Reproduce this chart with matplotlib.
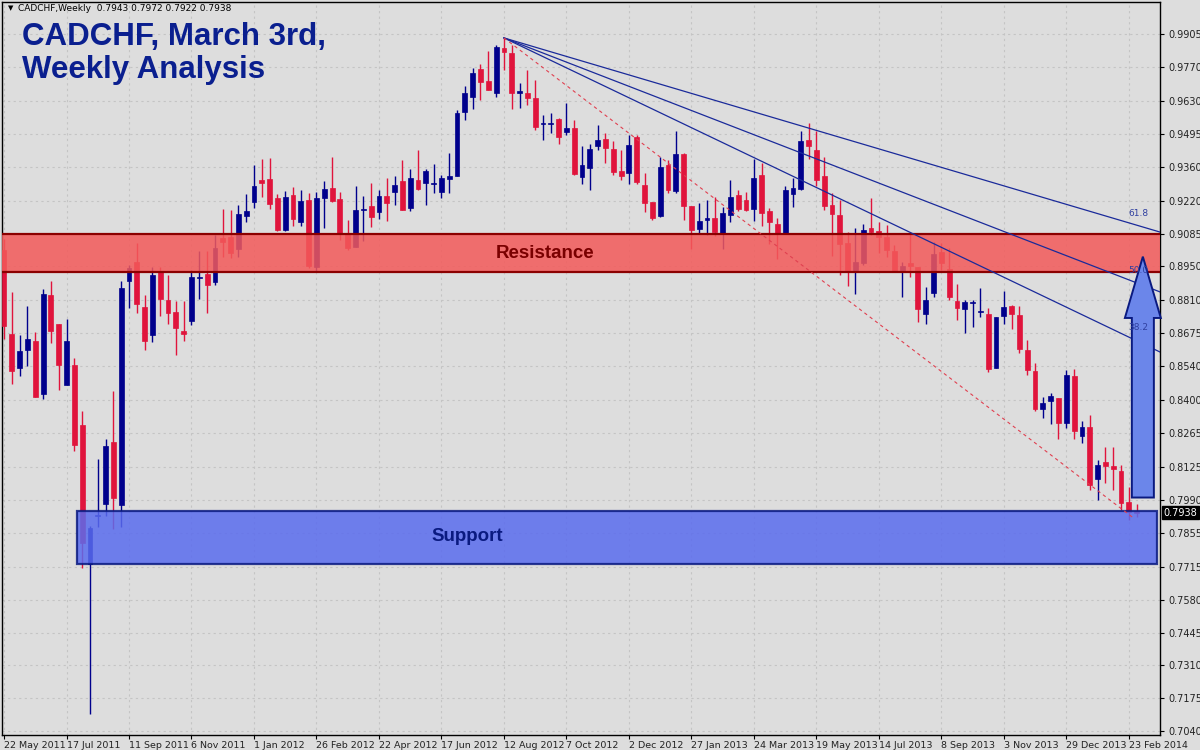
import matplotlib
matplotlib.use("Agg")
import matplotlib.pyplot as plt
from matplotlib.patches import Rectangle, Polygon
import numpy as np

opens = [.9018,.8672,.8531,.8605,.8645,.8425,.8831,.8712,.8464,.8545,.8300,.7728,.7927,.7973,.8227,.7971,.8891,.8967,.8782,.8668,
         .8926,.8812,.8762,.8683,.8726,.8906,.8919,.8885,.9068,.9071,.9021,.9159,.9214,.9304,.9311,.9231,.9098,.9243,.9132,.9223,
         .8947,.9231,.9272,.9227,.9083,.9030,.9182,.9198,.9173,.9239,.9256,.9301,.9190,.9305,.9293,.9289,.9256,.9309,.9321,.9584,
         .9646,.9761,.9712,.9663,.9848,.9827,.9663,.9663,.9642,.9539,.9539,.9556,.9502,.9518,.9317,.9354,.9445,.9473,.9434,.9342,
         .9334,.9482,.9284,.9215,.9157,.9367,.9260,.9412,.9198,.9104,.9141,.9149,.9087,.9161,.9243,.9223,.9186,.9326,.9178,.9124,
         .9087,.9248,.9268,.9469,.9428,.9321,.9202,.9161,.9046,.8927,.8964,.9108,.9095,.9071,.9013,.8931,.8964,.8947,.8754,.8841,
         .9009,.8939,.8808,.8775,.8800,.8763,.8754,.8532,.8746,.8787,.8750,.8606,.8520,.8364,.8397,.8409,.8306,.8499,.8253,.8290,
         .8076,.8146,.8130,.8109,.7981,.7943]
highs = [.9063,.8843,.8668,.8786,.8680,.8858,.8888,.8713,.8732,.8574,.8355,.7885,.8158,.8242,.8437,.8888,.8957,.9045,.8832,.8949,
         .8949,.8916,.8808,.8808,.8937,.9015,.9015,.9081,.9185,.9182,.9203,.9246,.9367,.9390,.9395,.9249,.9258,.9276,.9264,.9252,
         .9256,.9301,.9399,.9256,.9141,.9280,.9239,.9293,.9264,.9313,.9321,.9387,.9350,.9428,.9350,.9371,.9325,.9416,.9593,.9691,
         .9765,.9782,.9835,.9860,.9889,.9860,.9704,.9757,.9716,.9572,.9580,.9560,.9621,.9552,.9445,.9453,.9531,.9498,.9465,.9428,
         .9490,.9490,.9334,.9215,.9399,.9387,.9506,.9416,.9198,.9211,.9223,.9235,.9194,.9305,.9264,.9256,.9391,.9375,.9190,.9149,
         .9280,.9313,.9506,.9539,.9506,.9399,.9252,.9223,.9091,.9108,.9124,.9231,.9132,.9120,.9038,.8968,.9083,.8947,.8865,.9050,
         .9046,.9025,.8878,.8812,.8812,.8861,.8779,.8742,.8849,.8791,.8787,.8647,.8553,.8413,.8429,.8409,.8524,.8528,.8314,.8339,
         .8154,.8207,.8207,.8134,.8043,.7972]
lows = [.8653,.8467,.8498,.8539,.8412,.8406,.8637,.8440,.8464,.8193,.7710,.7109,.7880,.7926,.7870,.7877,.8777,.8759,.8607,.8640,
        .8747,.8713,.8584,.8645,.8710,.8817,.8759,.8873,.8987,.8984,.8987,.9132,.9192,.9234,.9185,.9094,.9097,.9117,.9116,.8943,
        .8927,.9108,.9215,.9058,.9017,.9030,.9054,.9112,.9145,.9136,.9202,.9182,.9178,.9264,.9202,.9252,.9231,.9252,.9321,.9551,
        .9597,.9634,.9675,.9646,.9757,.9597,.9601,.9613,.9510,.9469,.9498,.9453,.9490,.9325,.9289,.9264,.9428,.9375,.9325,.9305,
        .9289,.9289,.9173,.9141,.9153,.9252,.9252,.9141,.9021,.9087,.9079,.9075,.9021,.9132,.9178,.9178,.9136,.9116,.9042,.8980,
        .9083,.9194,.9264,.9391,.9280,.9182,.8992,.8914,.8869,.8836,.8955,.9079,.9005,.8988,.8927,.8824,.8906,.8721,.8713,.8824,
        .8935,.8812,.8730,.8676,.8700,.8742,.8516,.8532,.8713,.8693,.8594,.8503,.8356,.8327,.8302,.8240,.8286,.8240,.8224,.8031,
        .7990,.8060,.8031,.7948,.7908,.7922]
closes = [.8706,.8519,.8602,.8650,.8414,.8838,.8685,.8546,.8642,.8215,.7812,.7874,.7927,.8212,.7999,.8861,.8945,.8797,.8642,.8914,
          .8815,.8759,.8695,.8674,.8905,.8906,.8873,.9025,.9051,.9005,.9165,.9177,.9281,.9291,.9208,.9098,.9235,.9144,.9219,.8951,
          .9231,.9268,.9219,.9087,.9026,.9182,.9182,.9153,.9239,.9211,.9284,.9182,.9313,.9268,.9342,.9289,.9313,.9321,.9580,.9663,
          .9745,.9708,.9675,.9852,.9831,.9663,.9671,.9642,.9523,.9539,.9539,.9482,.9518,.9330,.9367,.9432,.9469,.9436,.9338,.9321,
          .9449,.9297,.9210,.9149,.9358,.9264,.9412,.9198,.9100,.9137,.9149,.9091,.9169,.9235,.9186,.9182,.9313,.9169,.9132,.9083,
          .9264,.9272,.9466,.9445,.9305,.9198,.9165,.9042,.8927,.8968,.9100,.9091,.9071,.9017,.8931,.8951,.8951,.8775,.8812,.9001,
          .8964,.8824,.8779,.8804,.8800,.8763,.8528,.8742,.8783,.8754,.8610,.8524,.8364,.8388,.8417,.8306,.8503,.8273,.8290,.8052,
          .8134,.8130,.8117,.7977,.7940,.7938]
date_labels = ["22 May 2011","17 Jul 2011","11 Sep 2011","6 Nov 2011","1 Jan 2012","26 Feb 2012","22 Apr 2012","17 Jun 2012",
               "12 Aug 2012","7 Oct 2012","2 Dec 2012","27 Jan 2013","24 Mar 2013","19 May 2013","14 Jul 2013","8 Sep 2013",
               "3 Nov 2013","29 Dec 2013","23 Feb 2014"]
price_ticks = [0.9905,0.9770,0.9630,0.9495,0.9360,0.9220,0.9085,0.8950,0.8810,0.8675,0.8540,0.8400,0.8265,0.8125,0.7990,
               0.7855,0.7715,0.7580,0.7445,0.7310,0.7175,0.7040]
current_price = 0.7938
resistance = (0.8927, 0.9083)
support = (0.7727, 0.7945)
peak_idx, peak_price = 64, 0.9889
fan_end = {"61.8": 0.9091, "50.0": 0.8845, "38.2": 0.8598}
fan_label_y = {"61.8": 0.9169, "50.0": 0.8935, "38.2": 0.8697}
dash_end = (144.6, 0.7916)

BG = '#dddddd'
BULL = '#00008c'
BEAR = '#e0143c'

fig = plt.figure(figsize=(12, 7.5), dpi=100, facecolor=BG)
ax = fig.add_axes([0.0017, 0.02, 0.965, 0.9773])
ax.set_facecolor(BG)
n = len(closes)
ax.set_xlim(-0.256, 148.0)
ax.set_ylim(0.7024, 1.00365)

for yv in price_ticks:
    ax.axhline(yv, color='#c4c4c4', lw=0.8, ls=(0, (2, 3)), zorder=0)
for i in range(0, n, 8):
    ax.axvline(i, color='#c4c4c4', lw=0.8, ls=(0, (2, 3)), zorder=0)

for i in range(n):
    o, h, l, c = opens[i], highs[i], lows[i], closes[i]
    col = BULL if c >= o else BEAR
    ax.vlines(i, l, h, color=col, lw=1.0, zorder=2)
    bot, top = min(o, c), max(o, c)
    hgt = max(top - bot, 0.0004)
    ax.bar(i, hgt, bottom=bot - (hgt - (top - bot)) / 2, width=0.62, color=col, edgecolor=col, lw=0.5, zorder=3)

ax.add_patch(Rectangle((-2, resistance[0]), 155, resistance[1] - resistance[0], facecolor='#f35a5a', alpha=0.85,
                       edgecolor='none', zorder=4))
for yv in resistance:
    ax.axhline(yv, color='#8b0000', lw=1.6, zorder=5)
ax.add_patch(Rectangle((9.35, support[0]), 147.6 - 9.35, support[1] - support[0], facecolor='#5a6cee', alpha=0.85,
                       edgecolor='#0a1a80', lw=1.6, zorder=4))
ax.text(69.3, 0.9005, "Resistance", ha='center', va='center', color='#7a0000', fontsize=13.5, fontweight='bold',
        family='Liberation Sans', zorder=6)
ax.text(59.3, 0.7838, "Support", ha='center', va='center', color='#0a1a80', fontsize=13.5, fontweight='bold',
        family='Liberation Sans', zorder=6)

for k, v in fan_end.items():
    ax.plot([peak_idx, 148.0], [peak_price, v], color='#1a2a9a', lw=0.9, zorder=5)
    ax.text(143.9, fan_label_y[k], k, color='#3040a0', fontsize=6.5, va='center', zorder=8)
ax.plot([peak_idx, dash_end[0]], [peak_price, dash_end[1]], color='#e04050', lw=0.8, ls=(0, (3, 3)), zorder=5)

cx, hb, hh = 145.8, 1.41, 2.3
tip, base, bottom = 0.8990, 0.8738, 0.8000
arrow = Polygon([[cx - hb, bottom], [cx - hb, base], [cx - hh, base], [cx, tip], [cx + hh, base],
                 [cx + hb, base], [cx + hb, bottom]], closed=True, facecolor='#6b86ea', edgecolor='#0a1a80',
                lw=1.4, zorder=7, clip_on=False)
ax.add_patch(arrow)

ax.yaxis.tick_right()
ax.set_yticks(price_ticks)
ax.set_yticklabels([f"{p:.4f}" for p in price_ticks], fontsize=7, color='#222222')
ax.tick_params(axis='y', length=3, width=0.8, pad=3)
ax.set_xticks(list(range(0, n, 8)))
ax.set_xticklabels(date_labels, fontsize=6.8, ha='left', color='#222222')
ax.tick_params(axis='x', length=3, width=0.8, pad=1)
for s in ax.spines.values():
    s.set_color('black')
    s.set_linewidth(1.0)

ax.text(1.003, current_price, f"{current_price:.4f}", transform=ax.get_yaxis_transform(), fontsize=7, color='white',
        va='center', ha='left', bbox=dict(facecolor='black', edgecolor='black', pad=1.2), zorder=8, clip_on=False)

ax.text(0.014, 0.991, "CADCHF,Weekly  0.7943 0.7972 0.7922 0.7938", transform=ax.transAxes, fontsize=6.5,
        va='center', ha='left', color='black')
ax.text(0.005, 0.991, "▼", transform=ax.transAxes, fontsize=5, va='center', ha='left', color='black')
ax.text(0.017, 0.973, "CADCHF, March 3rd,\nWeekly Analysis", transform=ax.transAxes, fontsize=22.5,
        fontweight='bold', family='Liberation Sans', color='#0a1f8f', va='top', ha='left', linespacing=1.15, zorder=9)

fig.savefig("out.png", dpi=100, facecolor=BG)
